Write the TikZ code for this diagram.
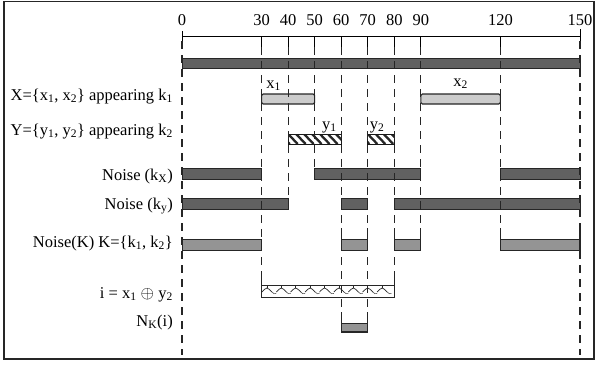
\documentclass[tikz,border=0pt]{standalone}
\usepackage{fontspec}
\setmainfont{Liberation Serif}
\begin{document}
\begin{tikzpicture}[x=1pt,y=-1pt,
  font=\fontsize{16.5}{19}\selectfont,
  lbl/.style={anchor=base east, inner sep=0pt},
  num/.style={anchor=base, inner sep=0pt},
  guide/.style={line width=1.1pt, dash pattern=on 8pt off 6pt, black!85},
  darkbar/.style={draw=black!85, line width=0.9pt, fill=black!62},
  lightbar/.style={draw=black!85, line width=1.1pt, fill=black!20, rounded corners=1.5pt},
  midbar/.style={draw=black!85, line width=0.9pt, fill=black!42},
  hatchbox/.style={draw=black!90, line width=1pt},
  wall/.style={line width=1.1pt, black!85},
]
\useasboundingbox (0,0) rectangle (596,365);
\draw[line width=1.2pt, black!85] (4,1.5) rectangle (594,359);

% row labels
\node[lbl] (lX) at (173,100) {X=\{x\textsubscript{1}, x\textsubscript{2}\} appearing k\textsubscript{1}};
\node[lbl] (lY) at (173,135) {Y=\{y\textsubscript{1}, y\textsubscript{2}\} appearing k\textsubscript{2}};
\node[lbl] (lkx) at (173,180) {Noise (k\textsubscript{X})};
\node[lbl] (lky) at (173,209) {Noise (k\textsubscript{y})};
\node[lbl] (lK) at (173,247) {Noise(K) K=\{k\textsubscript{1}, k\textsubscript{2}\}};
\node[lbl] (li) at (173,298) {i = x\textsubscript{1} $\oplus$ y\textsubscript{2}};
\node[lbl] (lN) at (173,326) {N\textsubscript{K}(i)};

\begin{scope}[xshift=182pt, x=2.6533pt]
  % axis
  \draw[line width=1pt] (0,36) -- (150,36);
  \draw[line width=1pt] (0,31) -- (0,41);
  \draw[line width=1pt] (150,29) -- (150,41);
  \foreach \t in {30,40,50,60,70,80,90,120}
    \draw[line width=1pt] (\t,36) -- (\t,47);
  \foreach \t in {0,30,40,50,60,70,80,90,120,150}
    \node[num] (n\t) at (\t,25) {\t};

  % top bar
  \draw[darkbar] (0,58) rectangle (150,68);

  % X bars
  \draw[lightbar] (30,94) rectangle (50,104);
  \draw[lightbar] (90,94) rectangle (120,104);
  \node[num] (x1) at (34.5,88) {x\textsubscript{1}};
  \node[num] (x2) at (105,86) {x\textsubscript{2}};

  % Y bars (hatched)
  \foreach \a/\b in {40/60,70/80}{
    \begin{scope}
      \clip (\a,134) rectangle (\b,144);
      \foreach \s in {-6,-3,...,21}
        \draw[line width=2.3pt, black!85] ({\a+\s},134) -- ({\a+\s+3.6},144);
    \end{scope}
    \draw[hatchbox] (\a,134) rectangle (\b,144);
  }
  \node[num] (y1) at (55.5,129) {y\textsubscript{1}};
  \node[num] (y2) at (73.5,129) {y\textsubscript{2}};

  % Noise kx
  \draw[darkbar] (0,168) rectangle (30,179);
  \draw[darkbar] (50,168) rectangle (90,179);
  \draw[darkbar] (120,168) rectangle (150,179);
  % Noise ky
  \draw[darkbar] (0,198) rectangle (40,209);
  \draw[darkbar] (60,198) rectangle (70,209);
  \draw[darkbar] (80,198) rectangle (150,209);
  % Noise K
  \draw[midbar] (0,239) rectangle (30,250);
  \draw[midbar] (60,239) rectangle (70,250);
  \draw[midbar] (80,239) rectangle (90,250);
  \draw[midbar] (120,239) rectangle (150,250);

  % i bar
  \draw[line width=1pt, black!85, fill=white] (30,285) rectangle (80,297);
  \foreach \k in {0,...,8}{
    \pgfmathsetmacro\c{32+\k*5.43}
    \draw[line width=0.7pt, black!85] (\c,285) -- (\c,288);
    \draw[line width=0.7pt, black!85] ({\c-1.9},292) .. controls ({\c-0.8},289) .. (\c,288)
         .. controls ({\c+0.8},289) .. ({\c+1.9},292);
    \draw[line width=0.6pt, black!70] ({\c+1.9},292) .. controls ({\c+2.7},294) .. ({\c+3.5},293.5);
  }

  % N_K(i)
  \fill[black!42] (60,323) rectangle (70,331);
  \draw[line width=0.8pt, black!85] (60,323) -- (70,323);

  % dashed guides
  \foreach \t/\e in {0/355,150/355}
    \draw[guide] (\t,41) -- (\t,\e);
  \foreach \t/\e in {30/278,40/209,50/179,60/312,70/312,80/278,90/251,120/251}
    \draw[guide] (\t,47) -- (\t,\e);

  % solid walls
  \foreach \t in {60,70,80,90,120,150}
    \draw[wall] (\t,228) -- (\t,251);
  \draw[wall] (30,278) -- (30,297);
  \draw[wall] (80,278) -- (80,297);
  \draw[wall] (60,312) -- (60,332) -- (70,332) -- (70,312);
\end{scope}
\end{tikzpicture}
\end{document}
